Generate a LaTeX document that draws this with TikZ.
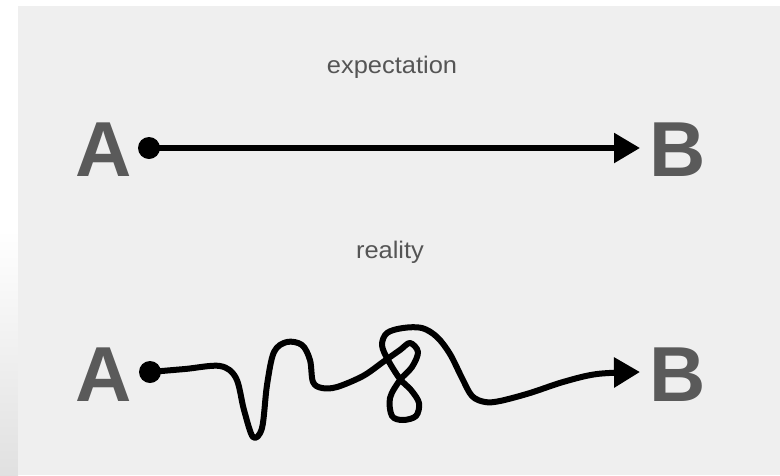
\documentclass[tikz,border=0pt]{standalone}
\usepackage{fontspec}
\setmainfont{Liberation Sans}
\usetikzlibrary{arrows.meta}
\definecolor{panel}{HTML}{EFEFEF}
\definecolor{lettergrey}{HTML}{5A5A5A}
\definecolor{labelgrey}{HTML}{555555}
\begin{document}
\begin{tikzpicture}[x=1pt,y=-1pt,
  letter/.style={inner sep=0pt,anchor=base,text=lettergrey,font=\fontsize{78}{78}\selectfont\bfseries},
  caption/.style={inner sep=0pt,anchor=base,text=labelgrey,font=\fontsize{24}{24}\selectfont,xscale=1.06},
  startdot/.style={circle,fill=black,inner sep=0pt,minimum size=22pt},
  pathline/.style={line width=5.5pt,-{Triangle[length=26pt,width=29pt]}},
  wiggle/.style={line width=6pt,line cap=round,line join=round,-{Triangle[length=26pt,width=29pt]}}]
\useasboundingbox (0,0) rectangle (780,475);
\fill[white] (0,0) rectangle (780,475);
\shade[top color=white,bottom color=white!88!black] (0,230) rectangle (18,475);
\fill[panel] (18,6) rectangle (780,475);
% top row
\node[caption] (exp) at (392,73) {expectation};
\node[letter] (A1) at (104,176) {A};
\node[letter] (B1) at (678,176) {B};
\node[startdot] (d1) at (149,148) {};
\coordinate (t1) at (640,148);
\draw[pathline] (d1.center) -- (t1);
% bottom row
\node[caption] (real) at (390,258) {reality};
\node[letter] (A2) at (104,401) {A};
\node[letter] (B2) at (678,401) {B};
\node[startdot] (d2) at (150,372) {};
\coordinate (t2) at (640,372);
\draw[wiggle] plot[smooth,tension=0.55] coordinates {
 (d2.center) (185,369) (220,366) (236,378) (244,410) (253,437) (262,428)
 (267,385) (274,352) (287,342) (302,345) (310,360) (313,382) (322,388)
 (337,387) (363,376) (383,362) (400,350) (410,343) (418,352) (412,367)
 (400,380) (390,398) (392,416) (403,420) (416,416) (419,403) (411,390)
 (400,379) (388,360) (382,345) (387,333) (403,328) (422,328) (437,337)
 (450,354) (462,378) (472,396) (485,402) (500,401) (530,393) (563,382)
 (597,374) (t2)};
\end{tikzpicture}
\end{document}
